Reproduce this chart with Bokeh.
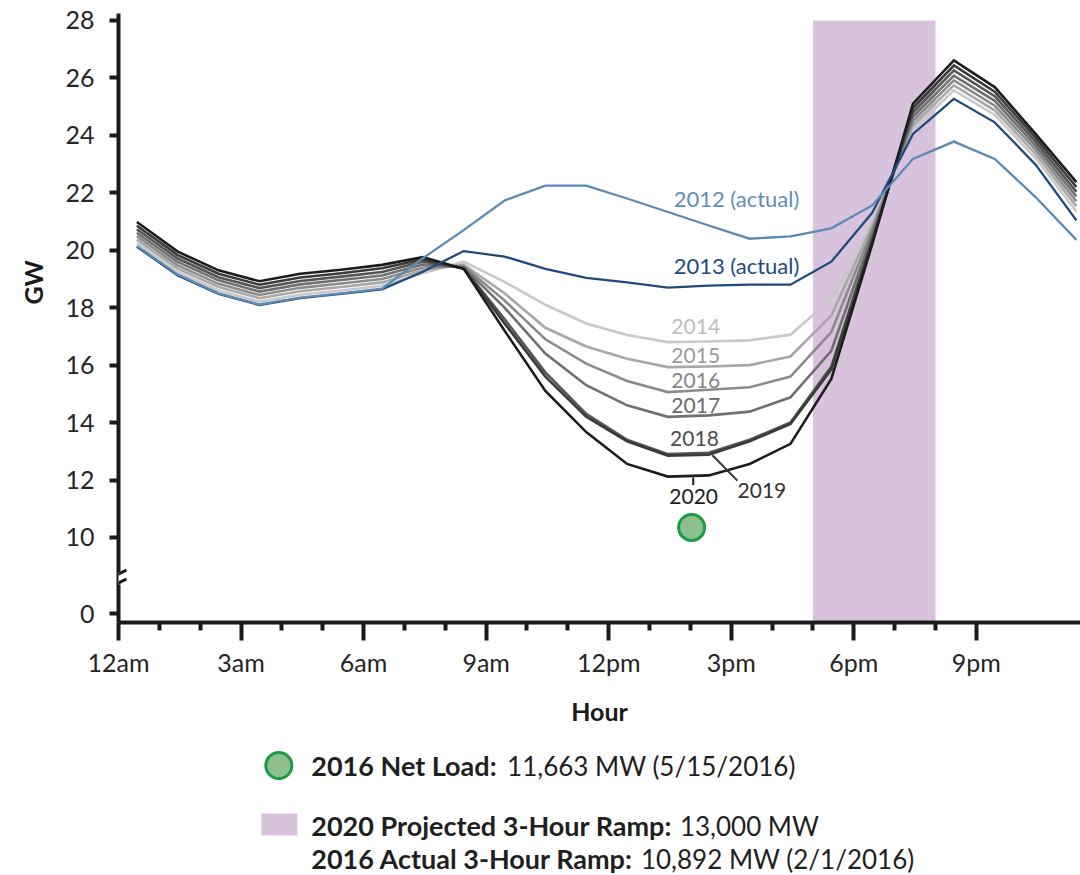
import math
from bokeh.plotting import figure
from bokeh.models import FixedTicker, Range1d, Arrow, ColumnDataSource, Title
from bokeh.layouts import column
from bokeh.core.properties import value
from bokeh.embed import file_html
from bokeh.resources import INLINE

FONT = "Lato"

# ---------------- data ----------------
hours = [h + 0.45 for h in range(24)]

load_2012 = [20.15, 19.15, 18.50, 18.11, 18.35, 18.50, 18.66, 19.72, 20.70, 21.73, 22.25, 22.25,
             21.80, 21.33, 20.86, 20.40, 20.48, 20.76, 21.56, 23.18, 23.78, 23.18, 21.85, 20.36]
load_2013 = [20.12, 19.12, 18.48, 18.09, 18.33, 18.48, 18.64, 19.25, 19.97, 19.78, 19.35, 19.04,
             18.88, 18.70, 18.77, 18.80, 18.80, 19.60, 21.30, 24.05, 25.27, 24.45, 22.98, 21.04]
load_2014 = [20.25, 19.24, 18.60, 18.21, 18.45, 18.60, 18.76, 19.20, 19.60, 18.90, 18.10, 17.45,
             17.05, 16.80, 16.82, 16.86, 17.06, 18.30, 20.97, 24.20, 25.56, 24.71, 23.20, 21.35]
load_2015 = [20.37, 19.36, 18.72, 18.33, 18.57, 18.72, 18.88, 19.30, 19.50, 18.50, 17.30, 16.65,
             16.22, 15.93, 15.95, 16.00, 16.30, 17.73, 20.85, 24.35, 25.74, 24.87, 23.35, 21.53]
load_2016 = [20.49, 19.47, 18.83, 18.44, 18.69, 18.84, 19.00, 19.40, 19.45, 18.25, 16.90, 16.05,
             15.45, 15.06, 15.14, 15.23, 15.60, 17.15, 20.70, 24.50, 25.91, 25.03, 23.50, 21.70]
load_2017 = [20.61, 19.59, 18.95, 18.56, 18.81, 18.96, 19.12, 19.50, 19.40, 18.00, 16.40, 15.30,
             14.60, 14.20, 14.25, 14.38, 14.88, 16.50, 20.55, 24.65, 26.08, 25.20, 23.64, 21.87]
load_2018 = [20.73, 19.71, 19.06, 18.68, 18.93, 19.08, 19.24, 19.60, 19.38, 17.60, 15.75, 14.30,
             13.40, 12.90, 12.95, 13.40, 14.00, 15.95, 20.40, 24.80, 26.26, 25.36, 23.78, 22.03]
load_2019 = [20.85, 19.83, 19.18, 18.80, 19.05, 19.20, 19.37, 19.68, 19.36, 17.45, 15.60, 14.20,
             13.35, 12.85, 12.88, 13.35, 13.95, 15.85, 20.30, 24.95, 26.43, 25.52, 23.92, 22.20]
load_2020 = [20.98, 19.95, 19.30, 18.92, 19.18, 19.32, 19.49, 19.76, 19.35, 17.20, 15.10, 13.67,
             12.56, 12.12, 12.16, 12.56, 13.26, 15.52, 20.20, 25.10, 26.61, 25.68, 24.05, 22.37]

series_years = ["2014", "2015", "2016", "2017", "2018", "2019", "2020", "2013", "2012"]
series_values = [load_2014, load_2015, load_2016, load_2017, load_2018, load_2019, load_2020,
                 load_2013, load_2012]
series_colors = ["#c9c9c9", "#a8a8a8", "#8b8b8b", "#707070", "#555555", "#3a3a3a", "#1c1c1c",
                 "#1e4a7c", "#5b8bb4"]
series_widths = [2.6, 2.6, 2.6, 2.6, 2.6, 2.6, 2.6, 2.3, 2.3]

label_texts = ["2012 (actual)", "2013 (actual)", "2014", "2015", "2016", "2017", "2018", "2019", "2020"]
label_x = [13.59, 13.59, 14.13, 14.13, 14.13, 14.13, 14.10, 15.75, 14.08]
label_y = [21.80, 19.47, 17.35, 16.34, 15.47, 14.59, 13.43, 11.63, 11.43]
label_align = ["left", "left", "center", "center", "center", "center", "center", "center", "center"]
label_sizes = ["22px", "22px", "21px", "21px", "21px", "21px", "21px", "21px", "21px"]
label_colors = ["#5f8fb8", "#1e4a7c", "#bdbdbd", "#9a9a9a", "#858585", "#6a6a6a", "#4d4d4d", "#333333", "#1c1c1c"]

ramp_start = [17]
ramp_end = [20]
ramp_top = [28]

net_load_hour = [14.03]
net_load_gw = [10.35]

x_major = [0, 3, 6, 9, 12, 15, 18, 21]
x_major_labels = ["12am", "3am", "6am", "9am", "12pm", "3pm", "6pm", "9pm"]
x_minor = [1, 2, 4, 5, 7, 8, 10, 11, 13, 14, 16, 17, 19, 20]

zero_pos = 7.35   # where the "0" label sits below the axis break
y_major = [zero_pos, 10, 12, 14, 16, 18, 20, 22, 24, 26, 28]
y_major_labels = ["0", "10", "12", "14", "16", "18", "20", "22", "24", "26", "28"]

legend_bold = ["2016 Net Load:", "2020 Projected 3-Hour Ramp:", "2016 Actual 3-Hour Ramp:"]
legend_rest = ["11,663 MW (5/15/2016)", "13,000 MW", "10,892 MW (2/1/2016)"]

Y0, Y1 = 7.04, 28.24
X0, X1 = 0, 23.55
PPX = 40.9   # px per hour
PPY = 28.72  # px per GW

W = 1080
H_MAIN = 736
H_LEG = 139

# ---------------- main figure ----------------
p = figure(width=W, height=H_MAIN, x_range=Range1d(X0, X1), y_range=Range1d(Y0, Y1),
           toolbar_location=None, output_backend="svg",
           min_border_left=117, min_border_right=0, min_border_top=13, min_border_bottom=114)
p.background_fill_color = "white"
p.border_fill_color = "white"
p.outline_line_color = None
p.grid.visible = False

# ramp band
p.quad(left=ramp_start, right=ramp_end, top=ramp_top, bottom=[Y0], fill_color="#d8c2dc",
       line_color=None)

for yr, vals, col, lw in zip(series_years, series_values, series_colors, series_widths):
    p.line(hours, vals, line_color=col, line_width=lw, line_join="miter")

# label leaders for 2019 and 2020
p.segment(x0=[14.54, 14.07], y0=[12.86, 12.09], x1=[15.15, 14.07], y1=[11.98, 11.82],
          line_color=["#333333", "#1c1c1c"], line_width=2)

lab_src = ColumnDataSource(dict(x=label_x, y=label_y, t=label_texts, c=label_colors,
                                a=label_align, s=label_sizes))
p.text(x="x", y="y", text="t", text_color="c", text_align="a", text_font_size="s",
       source=lab_src, text_font=value(FONT), text_baseline="middle")

p.scatter(net_load_hour, net_load_gw, size=26, marker="circle", fill_color="#8fbf8d",
          line_color="#1b9a45", line_width=3)

# axes
xa = p.xaxis[0]
xa.ticker = FixedTicker(ticks=x_major, minor_ticks=x_minor)
xa.major_label_overrides = {k: v for k, v in zip(x_major, x_major_labels)}
xa.major_tick_in = 0
xa.major_tick_out = 18
xa.minor_tick_in = 0
xa.minor_tick_out = 8
xa.major_tick_line_width = 4
xa.minor_tick_line_width = 4
xa.major_label_standoff = 6
xa.axis_label = "Hour"
xa.axis_label_standoff = 16
xa.axis_label_text_font_style = "bold"
xa.axis_label_text_font_size = "25px"

ya = p.yaxis[0]
ya.ticker = FixedTicker(ticks=y_major, minor_ticks=[])
ya.major_label_overrides = {k: v for k, v in zip(y_major, y_major_labels)}
ya.major_tick_in = 0
ya.major_tick_out = 9
ya.major_tick_line_width = 4
ya.major_label_standoff = 15

for ax in (xa, ya):
    ax.axis_line_width = 4
    ax.axis_line_color = "#1a1a1a"
    ax.major_tick_line_color = "#1a1a1a"
    ax.minor_tick_line_color = "#1a1a1a"
    ax.major_label_text_font = FONT
    ax.major_label_text_font_size = "25px"
    ax.major_label_text_color = "#262626"
    ax.axis_label_text_font = FONT
    ax.axis_label_text_color = "#1a1a1a"

# y-axis title, placed along the axis like the reference
gw = Title(text="GW", align="left", offset=318, text_font=FONT, text_font_style="bold",
           text_font_size="25px", text_color="#1a1a1a")
if "standoff" in gw.properties():
    gw.standoff = 30
p.add_layout(gw, "left")

# axis break marks
yc = 10 - 41 / PPY
p.add_layout(Arrow(x_start=0, y_start=yc - 6 / PPY, x_end=0, y_end=yc + 6 / PPY, end=None,
                   line_color="white", line_width=8))
for off in (-4.5, 4.5):
    p.add_layout(Arrow(x_start=-8 / PPX, y_start=yc + (off - 4) / PPY,
                       x_end=8 / PPX, y_end=yc + (off + 4) / PPY, end=None,
                       line_color="#1a1a1a", line_width=3))

# ---------------- legend figure (data units = page pixels) ----------------
leg = figure(width=W, height=H_LEG, x_range=Range1d(117, W), y_range=Range1d(H_MAIN + H_LEG, H_MAIN),
             toolbar_location=None, output_backend="svg",
             min_border_left=117, min_border_right=0, min_border_top=0, min_border_bottom=0)
leg.axis.visible = False
leg.grid.visible = False
leg.outline_line_color = None
leg.background_fill_color = "white"
leg.border_fill_color = "white"

leg.scatter([277.5], [765], size=26, marker="circle", fill_color="#8fbf8d",
            line_color="#1b9a45", line_width=3)
leg.quad(left=[260], right=[296], top=[813], bottom=[835], fill_color="#d8c2dc", line_color=None)

bold_src = ColumnDataSource(dict(x=[310, 310, 310], y=[765, 825, 858], t=legend_bold))
norm_src = ColumnDataSource(dict(x=[506, 679, 640], y=[765, 825, 858], t=legend_rest))
leg.text(x="x", y="y", text="t", source=bold_src, text_font=value(FONT), text_font_style="bold",
         text_font_size="27px", text_color="#1f1f1f", text_baseline="middle")
leg.text(x="x", y="y", text="t", source=norm_src, text_font=value(FONT),
         text_font_size="26px", text_color="#1f1f1f", text_baseline="middle")

layout = column(p, leg, spacing=0)
open("out.html", "w").write(file_html(layout, INLINE))
